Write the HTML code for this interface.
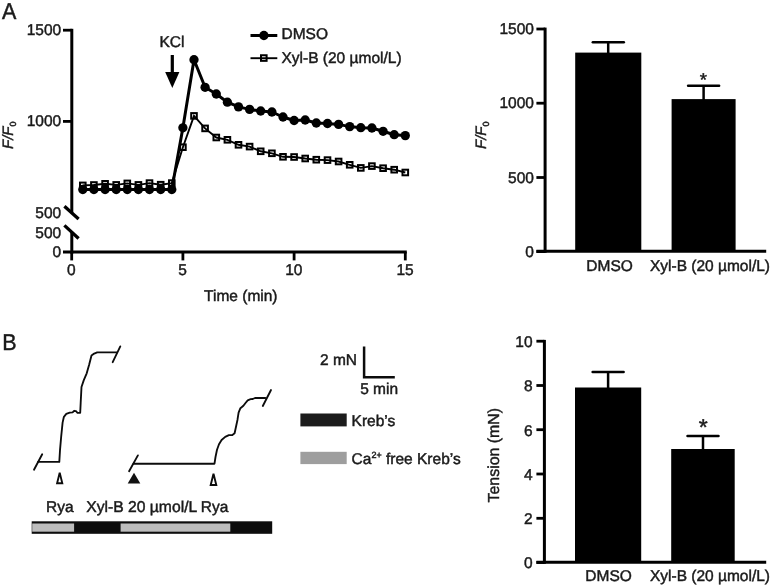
<!DOCTYPE html>
<html><head><meta charset="utf-8"><title>Figure</title>
<style>
html,body{margin:0;padding:0;background:#fff;}
body{width:773px;height:587px;overflow:hidden;}
svg{display:block;font-family:"Liberation Sans",sans-serif;filter:blur(0.45px);}
text{fill:#1a1a1a;stroke:#1a1a1a;stroke-width:0.45px;text-rendering:geometricPrecision;}
.lb{font-size:15.5px;}
.tk{font-size:15.5px;}
.ax{stroke:#000;stroke-width:3;fill:none;}
.tick{stroke:#000;stroke-width:2.8;fill:none;}
</style></head><body>
<svg width="773" height="587" viewBox="0 0 773 587">
<rect width="773" height="587" fill="#fff"/>

<text transform="translate(2.1,18.5) scale(1,1.07)" font-size="21.5">A</text>
<text transform="translate(2.2,349.8) scale(1,1.07)" font-size="21.5">B</text>
<g>
<line class="ax" x1="71.8" y1="28.8" x2="71.8" y2="212.5"/>
<line class="ax" x1="71.8" y1="232" x2="71.8" y2="253.6"/>
<line x1="64.4" y1="206.3" x2="78.6" y2="219.1" stroke="#000" stroke-width="3.3"/>
<line x1="64.4" y1="225.4" x2="78.6" y2="238.5" stroke="#000" stroke-width="3.3"/>
<line class="ax" x1="63" y1="252.1" x2="406.8" y2="252.1"/>
<line class="tick" x1="63" y1="30.2" x2="71.8" y2="30.2"/>
<line class="tick" x1="63" y1="121.4" x2="71.8" y2="121.4"/>
<line class="tick" x1="71.7" y1="252.1" x2="71.7" y2="260.4"/>
<text class="tk" x="71.4" y="275.2" text-anchor="middle">0</text>
<line class="tick" x1="182.9" y1="252.1" x2="182.9" y2="260.4"/>
<text class="tk" x="182.6" y="275.2" text-anchor="middle">5</text>
<line class="tick" x1="294.1" y1="252.1" x2="294.1" y2="260.4"/>
<text class="tk" x="293.8" y="275.2" text-anchor="middle">10</text>
<line class="tick" x1="405.3" y1="252.1" x2="405.3" y2="260.4"/>
<text class="tk" x="405.0" y="275.2" text-anchor="middle">15</text>
<text class="tk" x="61.2" y="35.4" text-anchor="end">1500</text>
<text class="tk" x="61.2" y="125.8" text-anchor="end">1000</text>
<text class="tk" x="61.2" y="218.1" text-anchor="end">500</text>
<text class="tk" x="61.2" y="237.5" text-anchor="end">500</text>
<text class="tk" x="61.2" y="256.9" text-anchor="end">0</text>
<text class="lb" x="240.8" y="300.6" text-anchor="middle">Time (min)</text>
<text class="lb" style="font-size:15px" transform="translate(13.2,149) rotate(-90)" font-style="italic">F/F<tspan style="font-size:9px" dy="3" font-style="normal">0</tspan></text>
<text class="lb" x="172" y="47.3" text-anchor="middle">KCl</text>
<line x1="172.3" y1="55" x2="172.3" y2="75" stroke="#000" stroke-width="3.2"/>
<polygon points="165.2,72 179.4,72 172.3,88" fill="#000"/>
<polyline points="82.8,185.4 93.9,185.0 105.1,183.8 116.2,184.9 127.3,183.4 138.4,184.9 149.5,183.1 160.7,184.7 171.8,183.1 182.9,147.2 194.0,115.9 205.1,128.4 216.3,137.5 227.4,139.8 238.5,144.8 249.6,146.6 260.7,151.3 271.9,153.3 283.0,156.8 294.1,157.0 305.2,158.5 316.3,159.7 327.5,160.1 338.6,161.5 349.7,164.8 360.8,167.9 371.9,166.1 383.1,168.2 394.2,169.7 405.3,172.5" fill="none" stroke="#000" stroke-width="1.9"/>
<rect x="80.0" y="182.6" width="5.6" height="5.6" fill="none" stroke="#000" stroke-width="2"/>
<rect x="91.1" y="182.2" width="5.6" height="5.6" fill="none" stroke="#000" stroke-width="2"/>
<rect x="102.3" y="181.0" width="5.6" height="5.6" fill="none" stroke="#000" stroke-width="2"/>
<rect x="113.4" y="182.1" width="5.6" height="5.6" fill="none" stroke="#000" stroke-width="2"/>
<rect x="124.5" y="180.6" width="5.6" height="5.6" fill="none" stroke="#000" stroke-width="2"/>
<rect x="135.6" y="182.1" width="5.6" height="5.6" fill="none" stroke="#000" stroke-width="2"/>
<rect x="146.7" y="180.3" width="5.6" height="5.6" fill="none" stroke="#000" stroke-width="2"/>
<rect x="157.9" y="181.9" width="5.6" height="5.6" fill="none" stroke="#000" stroke-width="2"/>
<rect x="169.0" y="180.3" width="5.6" height="5.6" fill="none" stroke="#000" stroke-width="2"/>
<rect x="180.1" y="144.4" width="5.6" height="5.6" fill="none" stroke="#000" stroke-width="2"/>
<rect x="191.2" y="113.1" width="5.6" height="5.6" fill="none" stroke="#000" stroke-width="2"/>
<rect x="202.3" y="125.6" width="5.6" height="5.6" fill="none" stroke="#000" stroke-width="2"/>
<rect x="213.5" y="134.7" width="5.6" height="5.6" fill="none" stroke="#000" stroke-width="2"/>
<rect x="224.6" y="137.0" width="5.6" height="5.6" fill="none" stroke="#000" stroke-width="2"/>
<rect x="235.7" y="142.0" width="5.6" height="5.6" fill="none" stroke="#000" stroke-width="2"/>
<rect x="246.8" y="143.8" width="5.6" height="5.6" fill="none" stroke="#000" stroke-width="2"/>
<rect x="257.9" y="148.5" width="5.6" height="5.6" fill="none" stroke="#000" stroke-width="2"/>
<rect x="269.1" y="150.5" width="5.6" height="5.6" fill="none" stroke="#000" stroke-width="2"/>
<rect x="280.2" y="154.0" width="5.6" height="5.6" fill="none" stroke="#000" stroke-width="2"/>
<rect x="291.3" y="154.2" width="5.6" height="5.6" fill="none" stroke="#000" stroke-width="2"/>
<rect x="302.4" y="155.7" width="5.6" height="5.6" fill="none" stroke="#000" stroke-width="2"/>
<rect x="313.5" y="156.9" width="5.6" height="5.6" fill="none" stroke="#000" stroke-width="2"/>
<rect x="324.7" y="157.3" width="5.6" height="5.6" fill="none" stroke="#000" stroke-width="2"/>
<rect x="335.8" y="158.7" width="5.6" height="5.6" fill="none" stroke="#000" stroke-width="2"/>
<rect x="346.9" y="162.0" width="5.6" height="5.6" fill="none" stroke="#000" stroke-width="2"/>
<rect x="358.0" y="165.1" width="5.6" height="5.6" fill="none" stroke="#000" stroke-width="2"/>
<rect x="369.1" y="163.3" width="5.6" height="5.6" fill="none" stroke="#000" stroke-width="2"/>
<rect x="380.3" y="165.4" width="5.6" height="5.6" fill="none" stroke="#000" stroke-width="2"/>
<rect x="391.4" y="166.9" width="5.6" height="5.6" fill="none" stroke="#000" stroke-width="2"/>
<rect x="402.5" y="169.7" width="5.6" height="5.6" fill="none" stroke="#000" stroke-width="2"/>
<polyline points="82.8,189.5 93.9,189.5 105.1,189.5 116.2,189.5 127.3,189.5 138.4,189.5 149.5,189.5 160.7,189.5 171.8,189.5 182.9,127.8 194.0,59.7 205.1,87.3 216.3,94.0 227.4,102.2 238.5,106.9 249.6,109.4 260.7,111.0 271.9,112.0 283.0,117.0 294.1,120.5 305.2,120.0 316.3,123.0 327.5,123.5 338.6,124.4 349.7,126.6 360.8,127.7 371.9,128.0 383.1,131.3 394.2,134.7 405.3,135.6" fill="none" stroke="#000" stroke-width="3" stroke-linejoin="round"/>
<circle cx="82.8" cy="189.5" r="4.65" fill="#000"/>
<circle cx="93.9" cy="189.5" r="4.65" fill="#000"/>
<circle cx="105.1" cy="189.5" r="4.65" fill="#000"/>
<circle cx="116.2" cy="189.5" r="4.65" fill="#000"/>
<circle cx="127.3" cy="189.5" r="4.65" fill="#000"/>
<circle cx="138.4" cy="189.5" r="4.65" fill="#000"/>
<circle cx="149.5" cy="189.5" r="4.65" fill="#000"/>
<circle cx="160.7" cy="189.5" r="4.65" fill="#000"/>
<circle cx="171.8" cy="189.5" r="4.65" fill="#000"/>
<circle cx="182.9" cy="127.8" r="4.65" fill="#000"/>
<circle cx="194.0" cy="59.7" r="4.65" fill="#000"/>
<circle cx="205.1" cy="87.3" r="4.65" fill="#000"/>
<circle cx="216.3" cy="94.0" r="4.65" fill="#000"/>
<circle cx="227.4" cy="102.2" r="4.65" fill="#000"/>
<circle cx="238.5" cy="106.9" r="4.65" fill="#000"/>
<circle cx="249.6" cy="109.4" r="4.65" fill="#000"/>
<circle cx="260.7" cy="111.0" r="4.65" fill="#000"/>
<circle cx="271.9" cy="112.0" r="4.65" fill="#000"/>
<circle cx="283.0" cy="117.0" r="4.65" fill="#000"/>
<circle cx="294.1" cy="120.5" r="4.65" fill="#000"/>
<circle cx="305.2" cy="120.0" r="4.65" fill="#000"/>
<circle cx="316.3" cy="123.0" r="4.65" fill="#000"/>
<circle cx="327.5" cy="123.5" r="4.65" fill="#000"/>
<circle cx="338.6" cy="124.4" r="4.65" fill="#000"/>
<circle cx="349.7" cy="126.6" r="4.65" fill="#000"/>
<circle cx="360.8" cy="127.7" r="4.65" fill="#000"/>
<circle cx="371.9" cy="128.0" r="4.65" fill="#000"/>
<circle cx="383.1" cy="131.3" r="4.65" fill="#000"/>
<circle cx="394.2" cy="134.7" r="4.65" fill="#000"/>
<circle cx="405.3" cy="135.6" r="4.65" fill="#000"/>
<line x1="250.5" y1="35.5" x2="277.3" y2="35.5" stroke="#000" stroke-width="3"/>
<circle cx="263.9" cy="35.5" r="4.65" fill="#000"/>
<text class="lb" x="281.5" y="39.3">DMSO</text>
<line x1="250.5" y1="58.2" x2="277.3" y2="58.2" stroke="#000" stroke-width="1.9"/>
<rect x="261" y="55.25" width="5.6" height="5.6" fill="none" stroke="#000" stroke-width="2"/>
<text class="lb" x="281.5" y="62.6">Xyl-B (20 µmol/L)</text>
</g>
<g>
<line class="ax" x1="545.1" y1="27.599999999999998" x2="545.1" y2="252.8"/>
<line class="ax" x1="536.4" y1="251.3" x2="766.2" y2="251.3"/>
<line class="tick" x1="536.4" y1="29.0" x2="545.1" y2="29.0"/>
<text class="tk" x="533.9" y="34.1" text-anchor="end">1500</text>
<line class="tick" x1="536.4" y1="103.2" x2="545.1" y2="103.2"/>
<text class="tk" x="533.9" y="108.3" text-anchor="end">1000</text>
<line class="tick" x1="536.4" y1="177.5" x2="545.1" y2="177.5"/>
<text class="tk" x="533.9" y="182.6" text-anchor="end">500</text>
<line class="tick" x1="536.4" y1="251.6" x2="545.1" y2="251.6"/>
<text class="tk" x="533.9" y="256.7" text-anchor="end">0</text>
<rect x="575.2" y="52.6" width="66.1" height="198.7" fill="#000"/>
<line x1="608.2" y1="42.2" x2="608.2" y2="53.6" stroke="#000" stroke-width="2.5"/>
<line x1="592.8" y1="42.2" x2="623.8" y2="42.2" stroke="#000" stroke-width="2.5" stroke-linecap="round"/>
<rect x="671.6" y="99.1" width="64.0" height="152.2" fill="#000"/>
<line x1="703.6" y1="85.7" x2="703.6" y2="100.1" stroke="#000" stroke-width="2.5"/>
<line x1="688.1" y1="85.7" x2="719.1" y2="85.7" stroke="#000" stroke-width="2.5" stroke-linecap="round"/>
<text class="lb" style="font-size:15px" transform="translate(485.7,149) rotate(-90)" font-style="italic">F/F<tspan style="font-size:9px" dy="3" font-style="normal">0</tspan></text>
<text class="lb" x="609.6" y="271" text-anchor="middle">DMSO</text>
<text class="lb" x="710" y="271" text-anchor="middle">Xyl-B (20 µmol/L)</text>
<text x="703.4" y="85.9" text-anchor="middle" font-size="18.6">*</text>
</g>
<g>
<line class="ax" x1="544.4" y1="339.9" x2="544.4" y2="563.8"/>
<line class="ax" x1="536.4" y1="562.3" x2="766.2" y2="562.3"/>
<line class="tick" x1="536.4" y1="341.2" x2="544.4" y2="341.2"/>
<text class="tk" x="532.6" y="347.1" text-anchor="end">10</text>
<line class="tick" x1="536.4" y1="385.5" x2="544.4" y2="385.5"/>
<text class="tk" x="532.6" y="391.4" text-anchor="end">8</text>
<line class="tick" x1="536.4" y1="429.7" x2="544.4" y2="429.7"/>
<text class="tk" x="532.6" y="435.6" text-anchor="end">6</text>
<line class="tick" x1="536.4" y1="474" x2="544.4" y2="474"/>
<text class="tk" x="532.6" y="479.9" text-anchor="end">4</text>
<line class="tick" x1="536.4" y1="518.3" x2="544.4" y2="518.3"/>
<text class="tk" x="532.6" y="524.2" text-anchor="end">2</text>
<line class="tick" x1="536.4" y1="562.5" x2="544.4" y2="562.5"/>
<text class="tk" x="532.6" y="568.4" text-anchor="end">0</text>
<rect x="575.0" y="387.5" width="66.2" height="174.8" fill="#000"/>
<line x1="608.1" y1="372.0" x2="608.1" y2="388.5" stroke="#000" stroke-width="2.5"/>
<line x1="592.6" y1="372.0" x2="623.6" y2="372.0" stroke="#000" stroke-width="2.5" stroke-linecap="round"/>
<rect x="671.2" y="449.0" width="63.5" height="113.3" fill="#000"/>
<line x1="703.0" y1="436.0" x2="703.0" y2="450.0" stroke="#000" stroke-width="2.5"/>
<line x1="687.5" y1="436.0" x2="718.5" y2="436.0" stroke="#000" stroke-width="2.5" stroke-linecap="round"/>
<text class="lb" style="font-size:15.9px" transform="translate(498.9,455.2) rotate(-90)" text-anchor="middle">Tension (mN)</text>
<text class="lb" x="608.6" y="580.6" text-anchor="middle">DMSO</text>
<text class="lb" x="710" y="580.6" text-anchor="middle">Xyl-B (20 µmol/L)</text>
<text x="703.3" y="434.9" text-anchor="middle" font-size="23">*</text>
</g>
<g>
<line x1="34" y1="469.8" x2="42.2" y2="454.2" stroke="#0c0c0c" stroke-width="1.85" fill="none" stroke-linejoin="round" stroke-linecap="round"/>
<polyline stroke="#0c0c0c" stroke-width="1.85" fill="none" stroke-linejoin="round" stroke-linecap="round" points="38,461.9 59.3,461.9 60,450.2 61.2,436.4 62.6,422.6 63.9,416.8 66.3,413.9 69.7,412.6 72.6,412.3 74.1,410.8 76,411.2 77.5,412.8 80.2,412.8 80.7,402.5 81.5,387 83.8,380.1 86.7,373.3 89.2,364.6 91.5,355.5 94.2,353.6 97.2,352.3 117,352.3"/>
<line x1="112.7" y1="362.2" x2="120.3" y2="346.4" stroke="#0c0c0c" stroke-width="1.85" fill="none" stroke-linejoin="round" stroke-linecap="round"/>
<line x1="129.1" y1="471.2" x2="137.9" y2="455.4" stroke="#0c0c0c" stroke-width="1.85" fill="none" stroke-linejoin="round" stroke-linecap="round"/>
<polyline stroke="#0c0c0c" stroke-width="1.85" fill="none" stroke-linejoin="round" stroke-linecap="round" points="133.5,463.7 214.5,463.7 215.5,457 217,449.8 219,444.2 221.6,440 225.2,436.9 228.9,435.2 232.4,435 234.6,433.3 236,426.8 237.5,419.7 238.6,412.6 240.4,408.2 243.4,405.8 245.5,403 247.7,400.3 250.6,399.2 252.8,399 255,398 265.3,398"/>
<line x1="262.8" y1="406" x2="271" y2="390" stroke="#0c0c0c" stroke-width="1.85" fill="none" stroke-linejoin="round" stroke-linecap="round"/>
<polygon points="59.7,472.6 57.1,483.3 62.3,483.3" fill="#fff" stroke="#0c0c0c" stroke-width="1.9" stroke-linejoin="miter"/>
<polygon points="213.5,473.8 210.7,485 216.3,485" fill="#fff" stroke="#0c0c0c" stroke-width="1.9" stroke-linejoin="miter"/>
<polygon points="134,472.8 127.7,483.5 140.3,483.5" fill="#111"/>
<text class="lb" x="46" y="511.6">Rya</text>
<text class="lb" x="86.2" y="511.6" style="font-size:15.7px">Xyl-B 20 µmol/L</text>
<text class="lb" x="200.8" y="511.6">Rya</text>
<rect x="31.7" y="521.3" width="240.5" height="12.5" fill="#0d0d0d"/>
<rect x="32.2" y="523.5" width="41.9" height="8.2" fill="#bdbdbd"/>
<rect x="120.6" y="523.5" width="109.7" height="8.2" fill="#bdbdbd"/>
<polyline points="364.1,346.6 364.1,377.2 394.8,377.2" fill="none" stroke="#0c0c0c" stroke-width="2.5"/>
<text class="lb" x="357" y="365.3" text-anchor="end">2 mN</text>
<text class="lb" x="360.2" y="394">5 min</text>
<rect x="300.4" y="413.5" width="46.3" height="12.9" fill="#1c1c1c"/>
<text class="lb" x="351.6" y="426">Kreb’s</text>
<rect x="300.4" y="451.8" width="46.3" height="12.3" fill="#9e9e9e"/>
<text class="lb" x="351.6" y="463.8">Ca<tspan font-size="9" dy="-5.5">2+</tspan><tspan dy="5.5"> free Kreb’s</tspan></text>
</g>
</svg></body></html>
